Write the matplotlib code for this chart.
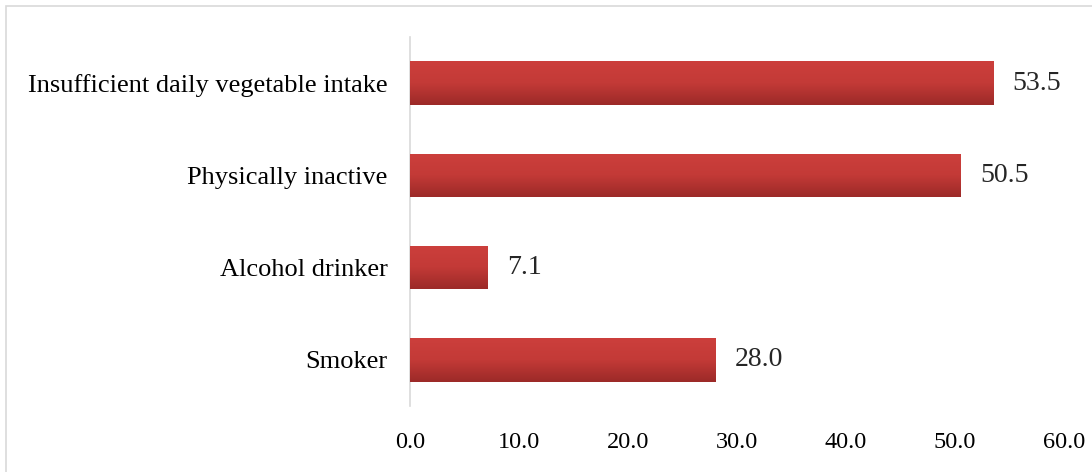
import numpy as np
import matplotlib
matplotlib.use("Agg")
import matplotlib.pyplot as plt
from matplotlib.patches import Rectangle

categorias = ["Smoker", "Alcohol drinker", "Physically inactive",
              "Insufficient daily vegetable intake"]
valores = [28.0, 7.1, 50.5, 53.5]
ticks_x = [0, 10, 20, 30, 40, 50, 60]

plt.rcParams["font.family"] = ["Liberation Serif", "DejaVu Serif"]

fig = plt.figure(figsize=(10.92, 4.72), dpi=100)
ax = fig.add_axes([410 / 1092, 1 - 406 / 472, 654 / 1092, 369 / 472])

# Moldura externa cinza
fig.patches.append(Rectangle((6 / 1092, -0.01), 1.1, 1 - 6 / 472 + 0.01,
                             transform=fig.transFigure, fill=False,
                             edgecolor="#d9d9d9", linewidth=1.2))

y = np.arange(len(categorias))
barras = ax.barh(y, valores, height=0.47, color="#b83533", zorder=2)

# Gradiente vertical nas barras (escuro embaixo, claro em cima)
grad = np.linspace(0, 1, 64).reshape(-1, 1)
cmap = matplotlib.colors.LinearSegmentedColormap.from_list(
    "verm", ["#9c2a28", "#c33a37", "#cc3f3c"])
for b in barras:
    x0, y0 = b.get_x(), b.get_y()
    w, h = b.get_width(), b.get_height()
    im = ax.imshow(grad, extent=[x0, x0 + w, y0, y0 + h], cmap=cmap,
                   aspect="auto", zorder=3, origin="lower")
    im.set_clip_path(b)

for b, v in zip(barras, valores):
    ax.annotate(f"{v:.1f}", (b.get_width(), b.get_y() + b.get_height() / 2),
                xytext=(14, 0), textcoords="offset points", va="center",
                ha="left", fontsize=20, color="#262626")

ax.set_xlim(0, 60)
ax.set_ylim(-0.5, 3.5)
ax.set_xticks(ticks_x)
ax.set_xticklabels([f"{t:.1f}" for t in ticks_x], fontsize=17.5)
ax.set_yticks(y)
ax.set_yticklabels(categorias, fontsize=19)
ax.tick_params(axis="y", length=0, pad=16)
ax.tick_params(axis="x", length=0, pad=19)

for lado in ["top", "right", "bottom"]:
    ax.spines[lado].set_visible(False)
ax.spines["left"].set_color("#d9d9d9")
ax.spines["left"].set_linewidth(1.2)

fig.savefig("out.png", dpi=100)
